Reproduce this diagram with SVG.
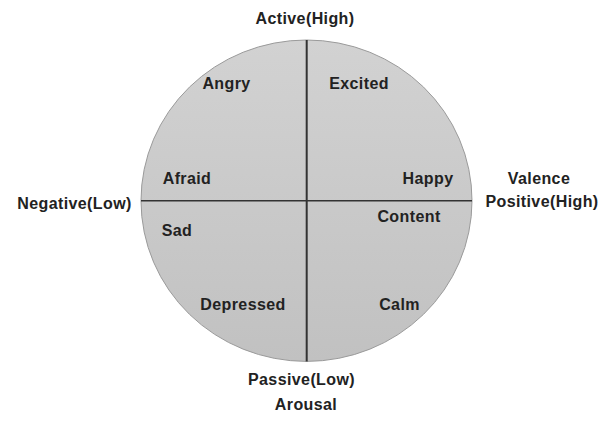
<svg xmlns="http://www.w3.org/2000/svg" width="607" height="422" viewBox="0 0 607 422">
  <defs>
    <linearGradient id="fillGrad" x1="0" y1="0" x2="0" y2="1">
      <stop offset="0" stop-color="#d2d2d2"/>
      <stop offset="1" stop-color="#c1c1c1"/>
    </linearGradient>
    <style>
      .lbl { font-family: "Liberation Sans", Arial, sans-serif; font-size: 16px; font-weight: bold; letter-spacing: 0.4px; fill: #222; text-anchor: middle; }
      .axis { stroke: #333; fill: none; }
    </style>
  </defs>
  <rect width="607" height="422" fill="#ffffff"/>
  <g id="circle">
    <ellipse cx="306.5" cy="200.7" rx="165.5" ry="160.7" fill="url(#fillGrad)" stroke="#9a9a9a" stroke-width="1"/>
  </g>
  <g id="connectors">
    <line class="axis" x1="306.7" y1="40" x2="306.7" y2="361.4" stroke-width="2"/>
    <line class="axis" x1="141" y1="200.7" x2="472" y2="200.7" stroke-width="1.6"/>
  </g>
  <g id="active-high"><text class="lbl" x="305" y="24">Active(High)</text></g>
  <g id="passive-low"><text class="lbl" x="301.5" y="385">Passive(Low)</text></g>
  <g id="arousal"><text class="lbl" x="306" y="410">Arousal</text></g>
  <g id="negative-low"><text class="lbl" x="74.5" y="209">Negative(Low)</text></g>
  <g id="valence"><text class="lbl" x="539" y="184">Valence</text></g>
  <g id="positive-high"><text class="lbl" x="542" y="207">Positive(High)</text></g>
  <g id="angry"><text class="lbl" x="226.5" y="89">Angry</text></g>
  <g id="excited"><text class="lbl" x="359" y="89">Excited</text></g>
  <g id="afraid"><text class="lbl" x="187" y="184">Afraid</text></g>
  <g id="happy"><text class="lbl" x="428" y="184">Happy</text></g>
  <g id="sad"><text class="lbl" x="177" y="236">Sad</text></g>
  <g id="content"><text class="lbl" x="409" y="222">Content</text></g>
  <g id="depressed"><text class="lbl" x="243" y="310">Depressed</text></g>
  <g id="calm"><text class="lbl" x="399.5" y="310">Calm</text></g>
</svg>
